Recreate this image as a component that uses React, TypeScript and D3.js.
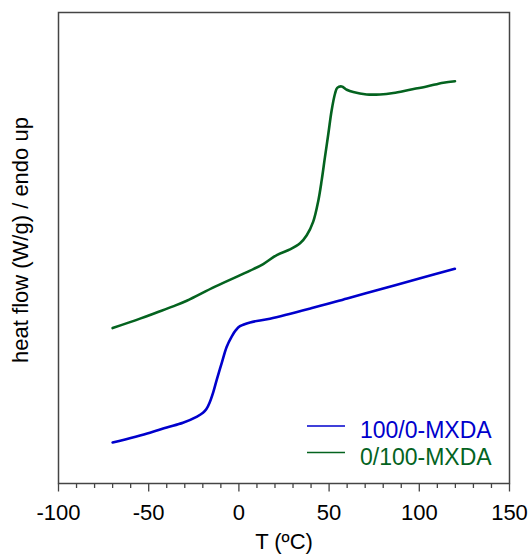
import React, { useEffect, useRef } from "react";
import * as d3 from "d3";

// DSC heat flow traces (arbitrary units, endo up) versus temperature in °C
const tempBlue = [-70, -49.3, -40, -31, -23.2, -19.9, -18.0, -16.2, -14.2, -12.3, -9.5, -6.8, -4.0, -1.6, 0.6, 6.2, 17.2, 40, 60, 80, 100, 119.7];
const flowBlue = [0.087, 0.108, 0.119, 0.129, 0.142, 0.150, 0.158, 0.172, 0.194, 0.220, 0.256, 0.290, 0.312, 0.326, 0.334, 0.342, 0.350, 0.372, 0.393, 0.414, 0.435, 0.456];

const tempGreen = [-70, -54.8, -45.6, -36.5, -28.9, -13.2, 6.2, 13.5, 21.0, 28.3, 33.9, 37.6, 41.2, 44.0, 45.9, 47.7, 49.6, 51.4, 53.3, 54.5, 57.0, 59.8, 63.4, 70.8, 78.2, 85.6, 94.8, 104.1, 113.3, 119.8];
const flowGreen = [0.330, 0.350, 0.363, 0.376, 0.388, 0.418, 0.452, 0.466, 0.485, 0.497, 0.510, 0.527, 0.556, 0.600, 0.644, 0.693, 0.743, 0.792, 0.828, 0.840, 0.843, 0.836, 0.831, 0.826, 0.826, 0.829, 0.836, 0.843, 0.851, 0.854];

const seriesNames = ["100/0-MXDA", "0/100-MXDA"];
const seriesColors = ["#0000cc", "#04631f"];

const xTicks = [-100, -50, 0, 50, 100, 150];
const xMinorTicks = d3.range(-100, 151, 10);

const W = 532;
const H = 555;
const M = { left: 58.5, right: 509.5, top: 12.5, bottom: 483.5 };
const FONT = "'Liberation Sans', Arial, sans-serif";

export default function App() {
  const ref = useRef<SVGSVGElement>(null);

  useEffect(() => {
    const svg = d3.select(ref.current);
    svg.selectAll("*").remove();

    const x = d3.scaleLinear().domain([-100, 150]).range([M.left, M.right]);
    const y = d3.scaleLinear().domain([0, 1]).range([M.bottom, M.top]);

    const line = d3
      .line<[number, number]>()
      .x((d) => x(d[0]))
      .y((d) => y(d[1]))
      .curve(d3.curveCatmullRom.alpha(0.5));

    const series = [
      tempBlue.map((t, i) => [t, flowBlue[i]] as [number, number]),
      tempGreen.map((t, i) => [t, flowGreen[i]] as [number, number]),
    ];

    // frame
    svg
      .append("rect")
      .attr("x", M.left)
      .attr("y", M.top)
      .attr("width", M.right - M.left)
      .attr("height", M.bottom - M.top)
      .attr("fill", "none")
      .attr("stroke", "#444")
      .attr("stroke-width", 1.5);

    // bottom ticks
    const g = svg.append("g");
    g.selectAll("line.minor")
      .data(xMinorTicks)
      .join("line")
      .attr("x1", (d) => x(d))
      .attr("x2", (d) => x(d))
      .attr("y1", M.bottom)
      .attr("y2", (d) => M.bottom + (xTicks.includes(d) ? 8 : 4.5))
      .attr("stroke", "#444")
      .attr("stroke-width", 1.3);

    g.selectAll("text.tick")
      .data(xTicks)
      .join("text")
      .attr("x", (d) => x(d))
      .attr("y", 520)
      .attr("text-anchor", "middle")
      .attr("font-family", FONT)
      .attr("font-size", 22)
      .attr("fill", "#000")
      .text((d) => String(d));

    svg
      .append("text")
      .attr("x", (M.left + M.right) / 2)
      .attr("y", 549)
      .attr("text-anchor", "middle")
      .attr("font-family", FONT)
      .attr("font-size", 22)
      .text("T (ºC)");

    svg
      .append("text")
      .attr("transform", `translate(28,${240}) rotate(-90)`)
      .attr("text-anchor", "middle")
      .attr("font-family", FONT)
      .attr("font-size", 22)
      .text("heat flow (W/g) / endo up");

    // traces
    series.forEach((s, i) => {
      svg
        .append("path")
        .attr("d", line(s) ?? "")
        .attr("fill", "none")
        .attr("stroke", seriesColors[i])
        .attr("stroke-width", 2.6)
        .attr("stroke-linejoin", "round")
        .attr("stroke-linecap", "round");
    });

    // legend
    seriesNames.forEach((name, i) => {
      const ly = 426 + i * 26.5;
      svg
        .append("line")
        .attr("x1", 307)
        .attr("x2", 345)
        .attr("y1", ly)
        .attr("y2", ly)
        .attr("stroke", seriesColors[i])
        .attr("stroke-width", 1.5);
      svg
        .append("text")
        .attr("x", 360)
        .attr("y", ly + 12)
        .attr("font-family", FONT)
        .attr("font-size", 23)
        .attr("fill", seriesColors[i])
        .text(name);
    });
  }, []);

  return (
    <svg
      ref={ref}
      width={W}
      height={H}
      style={{ position: "absolute", left: 0, top: 0, background: "#fff" }}
    />
  );
}
